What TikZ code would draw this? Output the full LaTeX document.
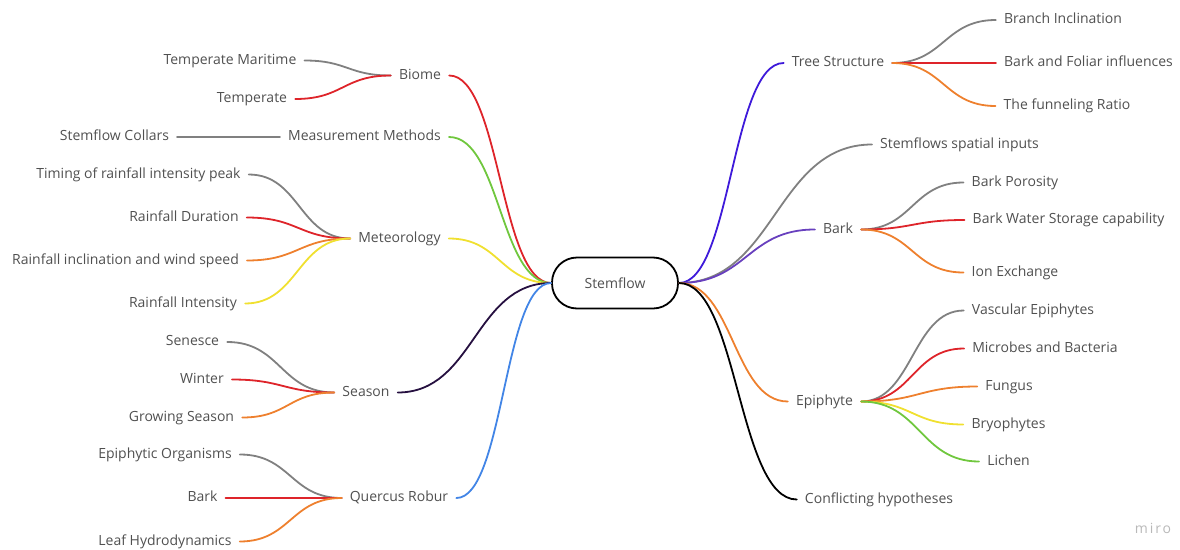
\documentclass[tikz,border=0pt]{standalone}
\usepackage{fontspec}
\setmainfont{Open Sans}
\usepackage{tikz}
\usetikzlibrary{calc}
\definecolor{mmtext}{RGB}{80,80,80}
\definecolor{mmgray}{RGB}{128,128,128}
\definecolor{mmred}{RGB}{222,36,42}
\definecolor{mmgreen}{RGB}{112,199,62}
\definecolor{mmyellow}{RGB}{240,224,48}
\definecolor{mmorange}{RGB}{238,128,46}
\definecolor{mmblue}{RGB}{66,133,230}
\definecolor{mmnight}{RGB}{38,16,64}
\definecolor{mmviolet}{RGB}{62,26,218}
\definecolor{mmpurple}{RGB}{104,64,190}
\definecolor{mmmark}{RGB}{185,185,185}
\newcommand{\mmfont}{\fontsize{14}{16}\selectfont}
\tikzset{
  mmroot/.style ={rectangle, rounded corners=25pt, draw=black, line width=1.8pt,
                  minimum width=126pt, minimum height=51pt, font=\mmfont, text=mmtext},
  mmtopic/.style={font=\mmfont, text=mmtext, inner xsep=8pt, inner ysep=2pt,
                  text height=10pt, text depth=3pt},
  mmleaf/.style ={mmtopic},
  mmlink/.style ={line width=1.8pt, line cap=round,
                  to path={let \p1=(\tikztostart), \p2=(\tikztotarget),
                           \n1={0.5*(\x1+\x2)} in
                           .. controls (\n1,\y1) and (\n1,\y2) .. (\tikztotarget)}},
  mmflat/.style ={line width=2pt, line cap=round},
  lgray/.style  ={mmlink, mmgray},
  lred/.style   ={mmlink, mmred},
  lgreen/.style ={mmlink, mmgreen},
  lyellow/.style={mmlink, mmyellow},
  lorange/.style={mmlink, mmorange},
  lblue/.style  ={mmlink, mmblue},
  lnight/.style ={mmlink, mmnight},
  lviolet/.style={mmlink, mmviolet},
  lpurple/.style={mmlink, mmpurple},
  lblack/.style ={mmlink, black},
}
\begin{document}
\begin{tikzpicture}[x=1pt, y=-1pt]
  \useasboundingbox (0,-1.5) rectangle (1180,547.5);
  \node[mmroot] (root) at (615,281.5) {Stemflow};

  % left half
  \node[mmtopic] (biome) at (420,74) {Biome};
  \node[mmleaf] (tmar) at (230,59) {Temperate Maritime};
  \node[mmleaf] (temp) at (252,97.5) {Temperate};
  \node[mmtopic] (meas) at (364.5,135.5) {Measurement Methods};
  \node[mmleaf] (coll) at (114.5,135.5) {Stemflow Collars};
  \node[mmtopic] (meteo) at (399.5,237) {Meteorology};
  \node[mmleaf] (timing) at (138.5,173) {Timing of rainfall intensity peak};
  \node[mmleaf] (rdur) at (184,216) {Rainfall Duration};
  \node[mmleaf] (rincl) at (125.5,259) {Rainfall inclination and wind speed};
  \node[mmleaf] (rint) at (183,302) {Rainfall Intensity};
  \node[mmtopic] (season) at (366,391) {Season};
  \node[mmleaf] (sen) at (192.5,340.5) {Senesce};
  \node[mmleaf] (win) at (202,378) {Winter};
  \node[mmleaf] (grow) at (181.5,416) {Growing Season};
  \node[mmtopic] (quer) at (399,496.5) {Quercus Robur};
  \node[mmleaf] (epo) at (165,453) {Epiphytic Organisms};
  \node[mmleaf] (qbark) at (202.5,496.5) {Bark};
  \node[mmleaf] (leaf) at (165,540) {Leaf Hydrodynamics};

  \draw[lred] (biome.east) to (root.west);
  \draw[lgreen] (meas.east) to (root.west);
  \draw[lyellow] (meteo.east) to (root.west);
  \draw[lnight] (season.east) to (root.west);
  \draw[lblue] (quer.east) to (root.west);
  \draw[lgray] (tmar.east) to (biome.west);
  \draw[lred] (temp.east) to (biome.west);
  \draw[mmflat, mmgray] (coll.east) -- (meas.west);
  \draw[lgray] (timing.east) to (meteo.west);
  \draw[lred] (rdur.east) to (meteo.west);
  \draw[lorange] (rincl.east) to (meteo.west);
  \draw[lyellow] (rint.east) to (meteo.west);
  \draw[lgray] (sen.east) to (season.west);
  \draw[lred] (win.east) to (season.west);
  \draw[lorange] (grow.east) to (season.west);
  \draw[lgray] (epo.east) to (quer.west);
  \draw[mmflat, mmred] (qbark.east) -- (quer.west);
  \draw[lorange] (leaf.east) to (quer.west);

  % right half
  \node[mmtopic] (tree) at (838,61.5) {Tree Structure};
  \node[mmleaf] (branch) at (1063,18.5) {Branch Inclination};
  \node[mmleaf] (bfol) at (1088.5,61.5) {Bark and Foliar influences};
  \node[mmleaf] (funnel) at (1067,104.5) {The funneling Ratio};
  \node[mmtopic] (spat) at (959.5,143) {Stemflows spatial inputs};
  \node[mmtopic] (rbark) at (838,228) {Bark};
  \node[mmleaf] (poro) at (1015,181) {Bark Porosity};
  \node[mmleaf] (wstor) at (1068.5,218.5) {Bark Water Storage capability};
  \node[mmleaf] (ion) at (1015,271) {Ion Exchange};
  \node[mmtopic] (epi) at (824.5,400) {Epiphyte};
  \node[mmleaf] (vasc) at (1033,309) {Vascular Epiphytes};
  \node[mmleaf] (micro) at (1045,347) {Microbes and Bacteria};
  \node[mmleaf] (fung) at (1009,385) {Fungus};
  \node[mmleaf] (bryo) at (1008.5,423) {Bryophytes};
  \node[mmleaf] (lich) at (1008.5,460) {Lichen};
  \node[mmtopic] (confl) at (879,498) {Conflicting hypotheses};

  \draw[lviolet] (root.east) to (tree.west);
  \draw[lgray] (root.east) to (spat.west);
  \draw[lpurple] (root.east) to (rbark.west);
  \draw[lorange] (root.east) to (epi.west);
  \draw[lblack] (root.east) to (confl.west);
  \draw[lgray] (tree.east) to (branch.west);
  \draw[mmflat, mmred] (tree.east) -- (bfol.west);
  \draw[lorange] (tree.east) to (funnel.west);
  \draw[lgray] (rbark.east) to (poro.west);
  \draw[lred] (rbark.east) to (wstor.west);
  \draw[lorange] (rbark.east) to (ion.west);
  \draw[lgray] (epi.east) to (vasc.west);
  \draw[lred] (epi.east) to (micro.west);
  \draw[lorange] (epi.east) to (fung.west);
  \draw[lyellow] (epi.east) to (bryo.west);
  \draw[lgreen] (epi.east) to (lich.west);

  \node[font=\mmfont\addfontfeature{LetterSpace=14}, text=mmmark] (miro) at (1153,526.5) {miro};
\end{tikzpicture}
\end{document}
